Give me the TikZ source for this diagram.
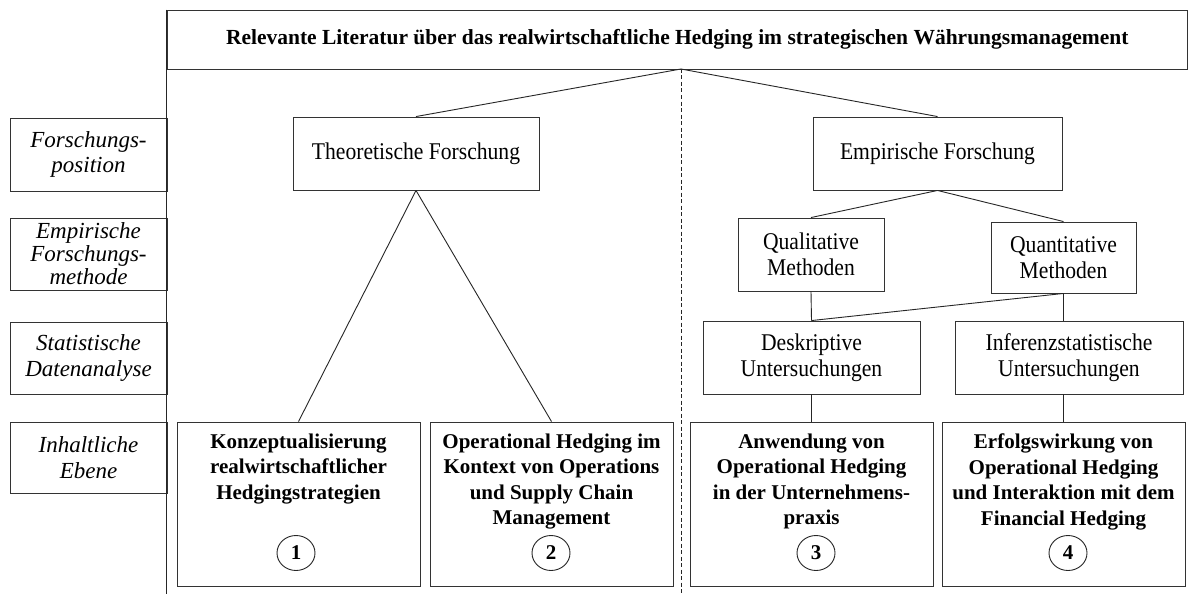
\documentclass[tikz,border=0pt]{standalone}
\usepackage{fontspec}
\setmainfont{Liberation Serif}
\newfontfamily\tallserif[FakeStretch=0.9]{Liberation Serif}
\usetikzlibrary{shapes.geometric}
\begin{document}
\begin{tikzpicture}[x=1pt,y=-1pt,
  frame/.style={draw=black!80, line width=0.9pt, rectangle, inner sep=0pt},
  link/.style={draw=black!85, line width=0.9pt},
  regtext/.style={font=\tallserif\fontsize{24}{26}\selectfont, align=center},
  labtext/.style={font=\fontsize{23}{26}\selectfont\itshape, align=center},
  boldtext/.style={font=\fontsize{21}{25.5}\selectfont\bfseries, align=center, inner sep=0pt},
  numcircle/.style={draw=black!85, line width=0.9pt, ellipse, minimum width=38pt,
    minimum height=35pt, inner sep=0pt, font=\fontsize{21}{21}\selectfont\bfseries},
]
\useasboundingbox[fill=white] (0,0) rectangle (1189,594);

% heading bar
\node[frame, minimum width=1020.5pt, minimum height=59pt,
      font=\fontsize{21.5}{25}\selectfont\bfseries] (title) at (677.25,39.5)
  {Relevante Literatur über das realwirtschaftliche Hedging im strategischen Währungsmanagement};

% row labels on the left
\node[frame, labtext, font=\fontsize{23}{24.5}\selectfont\itshape, minimum width=157pt, minimum height=73pt] (lpos) at (88.5,154.5) {Forschungs-\\position};
\node[frame, labtext, font=\fontsize{23}{23}\selectfont\itshape, minimum width=157pt, minimum height=72pt] (lmeth) at (88.5,254) {Empirische\\Forschungs-\\methode};
\node[frame, labtext, minimum width=157pt, minimum height=72pt] (lstat) at (88.5,358) {Statistische\\Datenanalyse};
\node[frame, labtext, minimum width=157pt, minimum height=71pt] (linh) at (88.5,457.5) {Inhaltliche\\Ebene};

% research branches
\node[frame, regtext, minimum width=246pt, minimum height=73pt] (theo) at (416,153.5) {Theoretische Forschung};
\node[frame, regtext, minimum width=249pt, minimum height=73pt] (emp) at (937.5,153.5) {Empirische Forschung};
\node[frame, regtext, minimum width=146pt, minimum height=73pt] (qual) at (811,254.5) {Qualitative\\Methoden};
\node[frame, regtext, minimum width=145pt, minimum height=71pt] (quant) at (1063.5,257.5) {Quantitative\\Methoden};
\node[frame, regtext, minimum width=217pt, minimum height=73pt] (desk) at (811.5,357.5) {Deskriptive\\Untersuchungen};
\node[frame, regtext, minimum width=228pt, minimum height=73pt] (infer) at (1069,357.5) {Inferenzstatistische\\Untersuchungen};

% content boxes
\node[frame, minimum width=243pt, minimum height=164pt] (b1) at (298.5,504) {};
\node[frame, minimum width=243pt, minimum height=164pt] (b2) at (551.5,504) {};
\node[frame, minimum width=243pt, minimum height=164pt] (b3) at (811.5,504) {};
\node[frame, minimum width=243pt, minimum height=164pt] (b4) at (1063.5,504) {};

\node[boldtext, anchor=north] (t1) at ([yshift=-12pt]b1.north) {Konzeptualisierung\\realwirtschaftlicher\\Hedgingstrategien};
\node[boldtext, anchor=north] (t2) at ([yshift=-12pt]b2.north) {Operational Hedging im\\Kontext von Operations\\und Supply Chain\\Management};
\node[boldtext, anchor=north] (t3) at ([yshift=-12pt]b3.north) {Anwendung von\\Operational Hedging\\in der Unternehmens-\\praxis};
\node[boldtext, anchor=north] (t4) at ([yshift=-12pt]b4.north) {Erfolgswirkung von\\Operational Hedging\\und Interaktion mit dem\\Financial Hedging};

\node[numcircle] (c1) at (296,553) {1};
\node[numcircle] (c2) at (551,553) {2};
\node[numcircle] (c3) at (816,553) {3};
\node[numcircle] (c4) at (1068,553) {4};

% frame lines
\coordinate (spinebot) at (167,594);
\coordinate (fork) at (681,69);
\coordinate (forkbot) at (681,594);
\draw[link] (title.north west) -- (title.north west |- spinebot);
\draw[link, dash pattern=on 4pt off 2.5pt] (fork) -- (forkbot);

% connectors
\draw[link] (fork) -- (theo.north);
\draw[link] (fork) -- (emp.north);
\draw[link] (theo.south) -- (b1.north);
\draw[link] (theo.south) -- (b2.north);
\draw[link] (emp.south) -- (qual.north);
\draw[link] (emp.south) -- (quant.north);
\draw[link] (qual.south) -- (desk.north);
\draw[link] (quant.south) -- (desk.north);
\draw[link] (quant.south) -- (quant.south |- infer.north);
\draw[link] (desk.south) -- (b3.north);
\draw[link] (b4.north |- infer.south) -- (b4.north);
\end{tikzpicture}
\end{document}
